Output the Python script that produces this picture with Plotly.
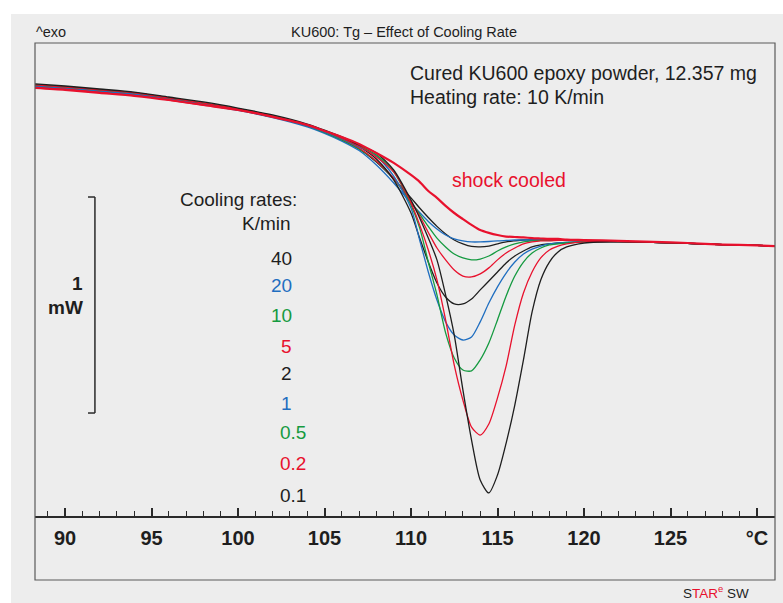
import plotly.graph_objects as go

# ---------------- data ----------------
temperature_c = [88.27, 90, 92, 94, 96, 98, 100, 102, 104, 105, 106, 107,
                 108, 109, 110, 110.5, 111, 111.5, 112, 112.5, 113, 113.5, 114, 114.5,
                 115, 115.5, 116, 116.5, 117, 117.5, 118, 118.5, 119, 120,
                 122, 124, 126, 128, 130, 131.04]

liquid_tail = [0.016, 0.012, 0.007, 0.002, -0.002, -0.005]

hf_40 = [0.736, 0.727, 0.713, 0.699, 0.676, 0.653, 0.625, 0.593, 0.551, 0.521, 0.486, 0.444,
         0.384, 0.306, 0.218, 0.171, 0.127, 0.086, 0.051, 0.023, 0.005, -0.007, -0.009, -0.005,
         0.005, 0.014, 0.019, 0.023, 0.023, 0.023, 0.023, 0.023, 0.021, 0.019] + liquid_tail
hf_20 = [0.734, 0.724, 0.711, 0.697, 0.674, 0.650, 0.623, 0.590, 0.547, 0.517, 0.481, 0.437,
         0.370, 0.287, 0.194, 0.150, 0.109, 0.074, 0.046, 0.028, 0.019, 0.014, 0.014, 0.016,
         0.019, 0.021, 0.023, 0.023, 0.023, 0.023, 0.023, 0.023, 0.021, 0.019] + liquid_tail
hf_10 = [0.736, 0.727, 0.713, 0.699, 0.676, 0.653, 0.625, 0.593, 0.551, 0.521, 0.486, 0.444,
         0.387, 0.306, 0.199, 0.143, 0.086, 0.032, -0.009, -0.042, -0.060, -0.069, -0.065, -0.051,
         -0.028, -0.009, 0.005, 0.014, 0.019, 0.021, 0.023, 0.023, 0.023, 0.021] + liquid_tail
hf_5 = [0.731, 0.722, 0.708, 0.694, 0.671, 0.648, 0.625, 0.593, 0.554, 0.526, 0.491, 0.449,
        0.389, 0.310, 0.199, 0.134, 0.058, -0.014, -0.069, -0.116, -0.144, -0.148, -0.134, -0.106,
        -0.069, -0.037, -0.014, 0.005, 0.014, 0.019, 0.019, 0.021, 0.021, 0.021] + liquid_tail
hf_2 = [0.741, 0.731, 0.718, 0.704, 0.681, 0.657, 0.630, 0.597, 0.556, 0.528, 0.495, 0.456,
        0.398, 0.301, 0.148, 0.032, -0.079, -0.176, -0.241, -0.273, -0.273, -0.250, -0.208, -0.167,
        -0.125, -0.083, -0.051, -0.028, -0.009, 0.000, 0.005, 0.009, 0.012, 0.014] + liquid_tail
hf_1 = [0.736, 0.727, 0.713, 0.699, 0.676, 0.653, 0.625, 0.593, 0.551, 0.523, 0.491, 0.454,
        0.412, 0.319, 0.171, 0.023, -0.125, -0.255, -0.356, -0.417, -0.440, -0.426, -0.356, -0.269,
        -0.194, -0.130, -0.079, -0.042, -0.019, -0.005, 0.005, 0.009, 0.012, 0.014] + liquid_tail
hf_0_5 = [0.741, 0.731, 0.718, 0.704, 0.681, 0.657, 0.630, 0.597, 0.556, 0.528, 0.495, 0.458,
          0.417, 0.338, 0.185, 0.079, -0.079, -0.231, -0.407, -0.523, -0.579, -0.583, -0.532, -0.454,
          -0.347, -0.236, -0.144, -0.079, -0.037, -0.014, 0.000, 0.005, 0.009, 0.014] + liquid_tail
hf_0_2 = [0.741, 0.731, 0.718, 0.704, 0.681, 0.657, 0.630, 0.597, 0.556, 0.528, 0.495, 0.458,
          0.407, 0.338, 0.194, 0.093, -0.023, -0.162, -0.347, -0.556, -0.718, -0.843, -0.880, -0.829,
          -0.708, -0.560, -0.370, -0.222, -0.125, -0.060, -0.023, -0.005, 0.005, 0.014] + liquid_tail
hf_0_1 = [0.746, 0.736, 0.722, 0.708, 0.685, 0.662, 0.634, 0.602, 0.560, 0.532, 0.500, 0.463,
          0.426, 0.347, 0.208, 0.125, 0.032, -0.069, -0.231, -0.417, -0.671, -0.903, -1.088, -1.148,
          -1.065, -0.917, -0.741, -0.532, -0.310, -0.162, -0.079, -0.032, -0.009, 0.009] + liquid_tail
hf_shock = [0.727, 0.718, 0.704, 0.690, 0.671, 0.648, 0.625, 0.593, 0.556, 0.528, 0.500, 0.468,
            0.426, 0.380, 0.324, 0.292, 0.250, 0.218, 0.181, 0.148, 0.120, 0.093, 0.069, 0.056,
            0.046, 0.039, 0.037, 0.035, 0.032, 0.030, 0.028, 0.028, 0.025, 0.023,
            0.019, 0.014, 0.009, 0.002, -0.002, -0.005]

rate_labels = ["40", "20", "10", "5", "2", "1", "0.5", "0.2", "0.1"]
rate_series = [hf_40, hf_20, hf_10, hf_5, hf_2, hf_1, hf_0_5, hf_0_2, hf_0_1]

BLACK = "#1e1e1e"
BLUE = "#1f6ec0"
GREEN = "#159a40"
RED = "#e8112d"
rate_colors = [BLACK, BLUE, GREEN, RED, BLACK, BLUE, GREEN, RED, BLACK]

x_ticks = [90, 95, 100, 105, 110, 115, 120, 125, 130]
x_ticktext = ["90", "95", "100", "105", "110", "115", "120", "125", "°C"]

# ---------------- layout geometry ----------------
W, H = 783, 603
L, R, T, B = 35, 775, 43, 580          # frame (plot area) in pixels
X_RANGE = [88.266, 131.04]
Y_RANGE = [-1.551, 0.935]


def px(xp):
    return (xp - L) / (R - L)


def py(yp):
    return (B - yp) / (B - T)


fig = go.Figure()

for lab, ys, col in zip(rate_labels, rate_series, rate_colors):
    fig.add_trace(go.Scatter(x=temperature_c, y=ys, mode="lines", name=lab,
                             line=dict(color=col, width=1.3, shape="spline", smoothing=0.7),
                             hoverinfo="skip"))

fig.add_trace(go.Scatter(x=temperature_c, y=hf_shock, mode="lines", name="shock cooled",
                         line=dict(color=RED, width=2.2, shape="spline", smoothing=0.7),
                         hoverinfo="skip"))

FONT = "Liberation Sans, Arial, sans-serif"

shapes = [
    # grey page background
    dict(type="rect", xref="paper", yref="paper", x0=px(11), x1=px(790), y0=py(14), y1=py(610),
         fillcolor="#ededed", line=dict(width=0), layer="below"),
    # frame
    dict(type="rect", xref="paper", yref="paper", x0=0, x1=1, y0=0, y1=1,
         line=dict(color="#5a5a5a", width=1.2)),
    # 1 mW scale bar
    dict(type="line", xref="x", yref="y", x0=91.73, x1=91.73, y0=0.222, y1=-0.778,
         line=dict(color="#2a2a2a", width=1.5)),
    dict(type="line", xref="x", yref="y", x0=91.33, x1=91.73, y0=0.222, y1=0.222,
         line=dict(color="#2a2a2a", width=1.5)),
    dict(type="line", xref="x", yref="y", x0=91.33, x1=91.73, y0=-0.778, y1=-0.778,
         line=dict(color="#2a2a2a", width=1.5)),
]

ann = []


def text(s, x, y, size, color="#1e1e1e", xanchor="left", weight="normal"):
    ann.append(dict(text=s, x=px(x), y=py(y), xref="paper", yref="paper", showarrow=False,
                    xanchor=xanchor, yanchor="middle", borderpad=0,
                    font=dict(size=size, color=color, family=FONT, weight=weight)))


text("^exo", 35, 32, 14.5)
text("KU600: Tg – Effect of Cooling Rate", 404, 32, 14.5, xanchor="center")
text("Cured KU600 epoxy powder, 12.357 mg", 409, 73, 19.5)
text("Heating rate: 10 K/min", 409, 97, 19.5)
text("shock cooled", 451, 180, 19.5, color=RED)
text("Cooling rates:", 298, 200, 19, xanchor="right")
text("K/min", 292, 223, 19, xanchor="right")
label_y = [258, 285, 315, 346, 373, 403, 432, 463, 495]
for lab, yy, col in zip(rate_labels, label_y, rate_colors):
    xr = 307 if "." in lab else 293
    text(lab, xr, yy, 19, color=col, xanchor="right")
text("1", 84, 283, 19, xanchor="right", weight="bold")
text("mW", 84, 307, 19, xanchor="right", weight="bold")
text('S<span style="color:#e8112d">TAR</span><sup style="color:#e8112d">e</sup> SW',
     750, 592, 13.5, xanchor="right")

fig.update_layout(
    width=W, height=H,
    margin=dict(l=L, r=W - R, t=T, b=H - B, pad=0),
    paper_bgcolor="white",
    plot_bgcolor="#ededed",
    showlegend=False,
    shapes=shapes,
    annotations=ann,
    xaxis=dict(range=X_RANGE, tickmode="array", tickvals=x_ticks, ticktext=x_ticktext,
               anchor="free", position=py(517), showgrid=False, zeroline=False,
               showline=True, linecolor="#2a2a2a", linewidth=1.5,
               ticks="inside", ticklen=8, tickwidth=1.5, tickcolor="#2a2a2a",
               ticklabelstandoff=3,
               tickfont=dict(family=FONT, size=20, color="#1e1e1e", weight="bold"),
               minor=dict(ticks="inside", ticklen=5, tickwidth=1.2, tickcolor="#2a2a2a",
                          tickmode="linear", tick0=90, dtick=1),
               fixedrange=True),
    yaxis=dict(range=Y_RANGE, visible=False, fixedrange=True),
)

fig.write_html("out.html")
